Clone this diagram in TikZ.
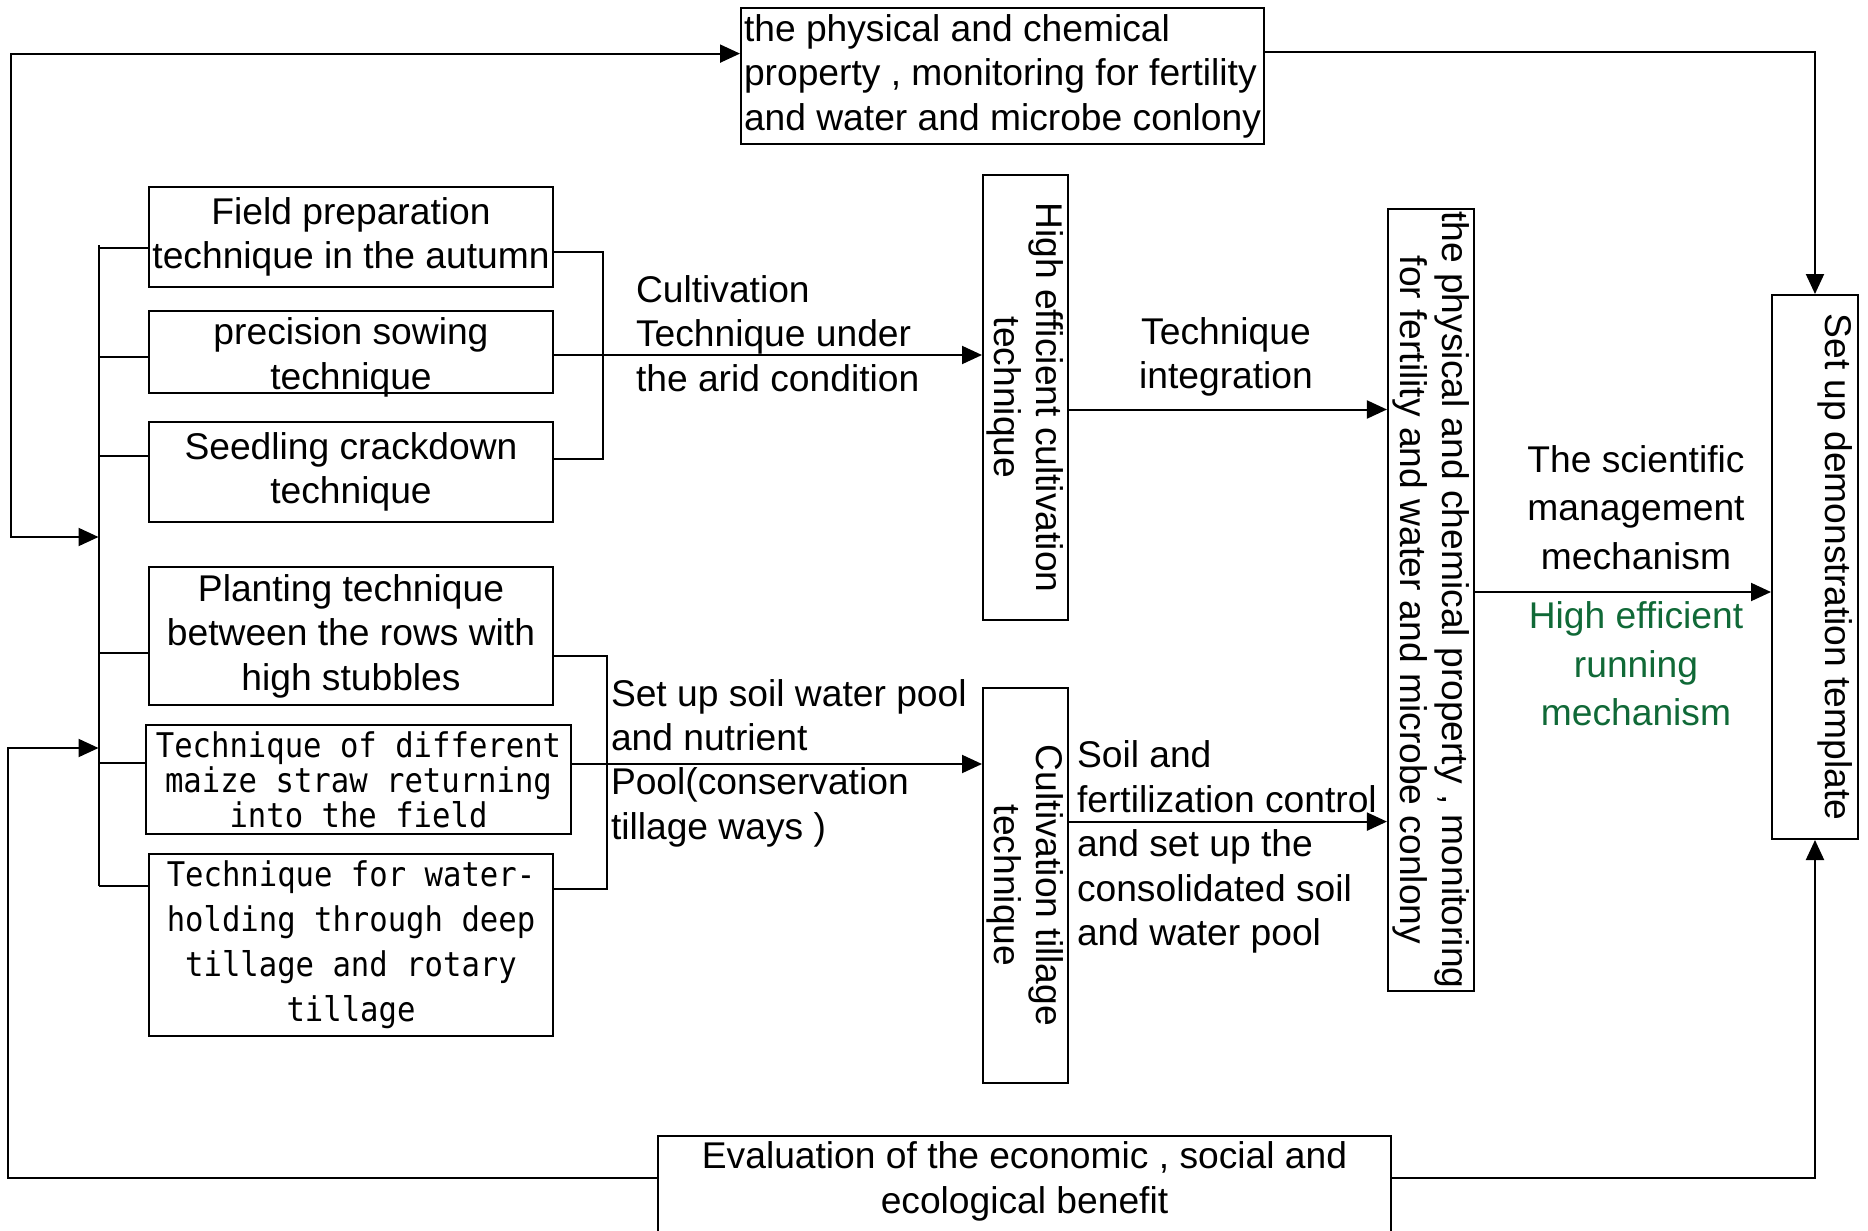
\documentclass[tikz,border=0pt]{standalone}
\usepackage{fontspec}
\setmainfont{Liberation Sans}
\newfontfamily\strawfont{DejaVu Sans Mono}[FakeStretch=0.9]
\usepackage{tikz}
\usetikzlibrary{arrows.meta}
\definecolor{mechgreen}{RGB}{16,105,55}

\begin{document}
\begin{tikzpicture}[x=0.25pt, y=-0.25pt, line width=0.5pt,
        font=\fontsize{9.3pt}{11.1pt}\selectfont,
        box/.style={draw, inner sep=0pt, align=center},
        vbox/.style={draw, inner sep=0pt, align=center, rotate=-90},
        lbl/.style={inner sep=0pt, align=left},
        mono/.style={font=\strawfont\fontsize{8.5pt}{#1}\selectfont},
        wide/.style={font=\fontsize{9.3pt}{12.1pt}\selectfont},
        >={Triangle[length=5pt, width=4.5pt]}]
    \useasboundingbox (0,0) rectangle (1868,1231);

    \node[box, align=left, minimum width=130.75pt, minimum height=34pt] (monitor) at (1002.5,76)
        {the physical and chemical\\property , monitoring for fertility\\and water and microbe conlony};

    \node[box, minimum width=101pt, minimum height=25pt] (autumn) at (351,237) {Field preparation\\technique in the autumn};
    \node[box, minimum width=101pt, minimum height=20.5pt] (sowing) at (351,352) {};
    \node[inner sep=0pt, align=center] (sowingtext) at (351,357.5) {precision sowing\\technique};
    \node[box, minimum width=101pt, minimum height=25pt] (seedling) at (351,472) {Seedling crackdown\\technique};
    \node[box, minimum width=101pt, minimum height=34.5pt] (planting) at (351,636) {Planting technique\\between the rows with\\high stubbles};
    \node[box, mono=8.75pt, minimum width=106.25pt, minimum height=27.25pt] (straw) at (358.5,779.5)
        {Technique of different\\maize straw returning\\into the field};
    \node[box, mono=11.25pt, minimum width=101pt, minimum height=45.5pt] (water) at (351,945)
        {Technique for water-\\holding through deep\\tillage and rotary\\tillage};

    \node[lbl, anchor=west] (cultiv) at (635,333.6) {Cultivation\\Technique under\\the arid condition};
    \node[lbl, anchor=west] (soilpool) at (610,763) {Set up soil water pool\\and nutrient\\Pool(conservation\\tillage ways )};

    \node[vbox, font=\fontsize{9.3pt}{10.5pt}\selectfont, minimum width=111.25pt, minimum height=21.25pt] (higheff) at (1025.5,397.5)
        {High efficient cultivation\\technique};
    \node[vbox, font=\fontsize{9.3pt}{10.5pt}\selectfont, minimum width=98.75pt, minimum height=21.25pt] (tillage) at (1025.5,885.5)
        {Cultivation tillage\\technique};

    \node[lbl, align=center] (integ) at (1226,357) {Technique\\integration};
    \node[lbl, anchor=west] (soilfert) at (1076,847) {Soil and\\fertilization control\\and set up the\\consolidated soil\\and water pool};

    \node[vbox, font=\fontsize{9.3pt}{10.5pt}\selectfont, minimum width=195.5pt, minimum height=21.4pt] (monitorv) at (1430.75,600)
        {the physical and chemical property , monitoring\\for fertility and water and microbe conlony};

    \node[lbl, align=center, wide] (scimgmt) at (1636,507.5) {The scientific\\management\\mechanism};
    \node[lbl, align=center, wide, text=mechgreen] (running) at (1636,664) {High efficient\\running\\mechanism};

    \node[vbox, minimum width=136pt, minimum height=21.5pt] (demo) at (1815,567) {};
    \node[inner sep=0pt, rotate=-90] (demotext) at (1835,567) {Set up demonstration template};

    \node[box, anchor=north, minimum width=183.25pt, minimum height=28pt] (evalbox) at (1024.5,1135) {};
    \node[inner sep=0pt, align=center] (evaltext) at (1024.5,1181.5) {Evaluation of the economic , social and\\ecological benefit};

    \coordinate (topleft) at (11,53.6);
    \coordinate (midleft) at (11,537);
    \coordinate (botleft) at (8,748);
    \coordinate (brtop) at (98.5,245);
    \coordinate (brbot) at (98.5,886);
    \coordinate (upjoin) at (603,355);
    \coordinate (lowjoin) at (607,764);

    \draw[<->] (monitor.west |- topleft) -- (topleft) -- (midleft) -- (brtop |- midleft);
    \draw (brtop) -- (brbot);
    \foreach \b/\y in {autumn/248, sowing/357, seedling/456, planting/653, straw/763, water/886}
        \draw (brtop |- 0,\y) -- (\b.west |- 0,\y);

    \draw (autumn.east |- 0,252) -| (upjoin) |- (seedling.east |- 0,459);
    \draw[->] (sowing.east |- upjoin) -- (higheff.south |- upjoin);
    \draw (planting.east |- 0,656) -| (lowjoin) |- (water.east |- 0,889);
    \draw[->] (straw.east |- lowjoin) -- (tillage.south |- lowjoin);

    \draw[->] (higheff.north |- 0,409.5) -- (monitorv.south |- 0,409.5);
    \draw[->] (tillage.north |- 0,821.6) -- (monitorv.south |- 0,821.6);
    \draw[->] (monitorv.north |- 0,592) -- (demo.south |- 0,592);

    \draw[->] (monitor.east |- 0,52) -| (demo.west);
    \draw[->] (evalbox.west |- 0,1177.6) -| (botleft) -- (brtop |- botleft);
    \draw[->] (evalbox.east |- 0,1177.6) -| (demo.east);
\end{tikzpicture}
\end{document}
